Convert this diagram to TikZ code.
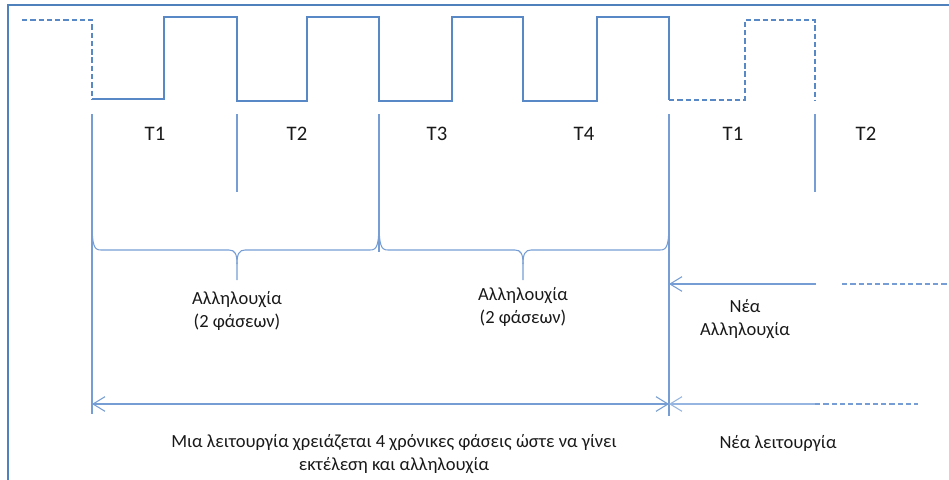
\documentclass[tikz,border=0pt]{standalone}
\usepackage{fontspec}
\setmainfont{Carlito}
\usetikzlibrary{arrows.meta}
\definecolor{frameblue}{RGB}{79,129,189}
\definecolor{waveblue}{RGB}{88,136,198}
\definecolor{lineblue}{RGB}{118,158,212}
\definecolor{paleblue}{RGB}{150,182,225}
\definecolor{textgray}{RGB}{25,25,25}

% draws a horizontal brace from x=#1 to x=#3 with its tip at x=#2
\newcommand\seqbrace[3]{%
  \draw[bracestyle] (#1,220) .. controls (#1,246) and (#1+2,250) .. (#1+9,250)
    -- (#2-8,250) .. controls (#2-2,250) and (#2,254) .. (#2,264) -- (#2,280);
  \draw[bracestyle] (#2,264) .. controls (#2,254) and (#2+2,250) .. (#2+8,250)
    -- (#3-9,250) .. controls (#3-2,250) and (#3,246) .. (#3,220);
}

\begin{document}
\begin{tikzpicture}[x=0.75pt,y=-0.75pt,
  wave/.style={draw=waveblue,line width=0.9pt},
  wavedash/.style={draw=waveblue,line width=0.9pt,dash pattern=on 4pt off 2.2pt},
  divider/.style={draw=lineblue,line width=0.8pt},
  bracestyle/.style={draw=lineblue,line width=0.8pt},
  arr/.style={draw=lineblue,line width=0.8pt},
  tip/.style={-{Straight Barb[length=9pt,width=11pt,line width=0.8pt]}},
  lbl/.style={font=\fontsize{15.5}{18}\selectfont,text=textgray,inner sep=0pt},
  txt/.style={font=\fontsize{13.9}{17.3}\selectfont,text=textgray,align=center,inner sep=0pt}]
\useasboundingbox (0,0) rectangle (949,479);
\clip (0,0) rectangle (949,479);

% outer frame (only its left and top sides fall inside the picture)
\draw[frameblue,line width=2pt] (8,500) -- (8,5) -- (970,5);

% clock waveform
\draw[wavedash] (22,20) -- (92,20) -- (92,99);
\draw[wave] (92,99) -- (164,99) -- (164,17) -- (237,17) -- (237,101) -- (307,101)
  -- (307,17) -- (379,17) -- (379,101) -- (452,101) -- (452,17) -- (523,17)
  -- (523,101) -- (597,101) -- (597,17) -- (669,17) -- (669,100);
\draw[wavedash] (669,100) -- (745,100) -- (745,20) -- (815,20) -- (815,100);

% phase boundaries
\coordinate (b0t) at (92,114);  \coordinate (b0b) at (92,414);
\coordinate (b1t) at (237,114); \coordinate (b1b) at (237,192);
\coordinate (b2t) at (379,114); \coordinate (b2b) at (379,252);
\coordinate (b4t) at (669,114); \coordinate (b4b) at (669,416);
\coordinate (b5t) at (815,114); \coordinate (b5b) at (815,192);
\draw[divider] (b0t) -- (b0b);
\draw[divider] (b1t) -- (b1b);
\draw[divider] (b2t) -- (b2b);
\draw[divider] (b4t) -- (b4b);
\draw[divider] (b5t) -- (b5b);

% phase labels
\node[lbl] (t1) at (155,134) {T1};
\node[lbl] (t2) at (297,134) {T2};
\node[lbl] (t3) at (437,134) {T3};
\node[lbl] (t4) at (584,134) {T4};
\node[lbl] (t1n) at (733,134) {T1};
\node[lbl] (t2n) at (866,134) {T2};

% braces grouping two phases each
\seqbrace{92}{237}{379}
\seqbrace{379}{523}{669}

\node[txt] (seq1) at (237,311) {Αλληλουχία\\(2 φάσεων)};
\node[txt] (seq2) at (523,307) {Αλληλουχία\\(2 φάσεων)};
\node[txt] (seqn) at (745,319) {Νέα\\Αλληλουχία};

% new sequence arrow
\coordinate (ns) at (816,284);
\coordinate (ne) at (669,284);
\draw[arr,tip] (ns) -- (ne);
\coordinate (nds) at (842,284);
\coordinate (nde) at (949,284);
\draw[arr,dash pattern=on 4pt off 2.2pt] (nds) -- (nde);

% span of one operation
\coordinate (os) at (92,404);
\coordinate (oe) at (669,404);
\draw[arr,{Straight Barb[length=9pt,width=11pt,line width=0.8pt]}-{Straight Barb[length=9pt,width=11pt,line width=0.8pt]}] (os) -- (oe);
\coordinate (nos) at (815,404);
\draw[draw=paleblue,line width=0.8pt,tip] (nos) -- (oe);
\coordinate (nde2) at (918,404);
\draw[arr,dash pattern=on 4pt off 2.2pt] (nos) -- (nde2);

\node[txt] (op) at (394,454) {Μια λειτουργία χρειάζεται 4 χρόνικες φάσεις ώστε να γίνει\\εκτέλεση και αλληλουχία};
\node[txt] (nop) at (778,443) {Νέα λειτουργία};
\end{tikzpicture}
\end{document}
